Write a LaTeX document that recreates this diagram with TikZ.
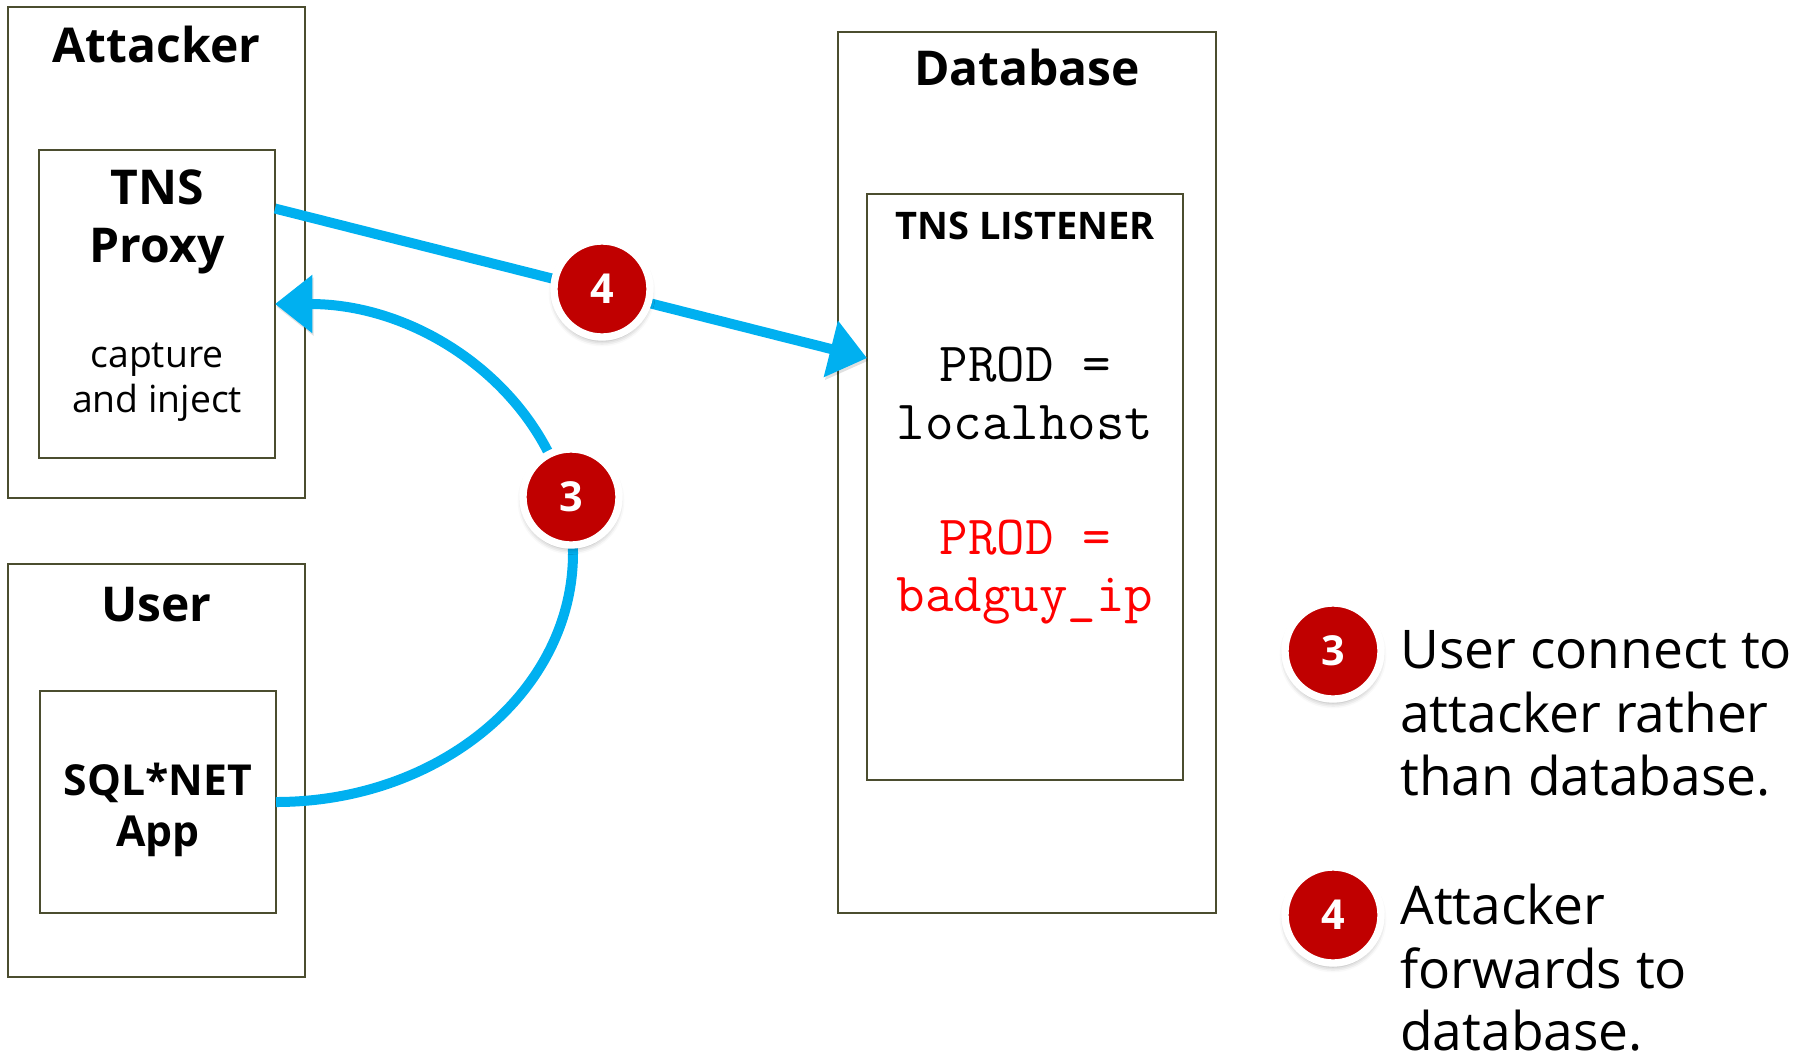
\documentclass[tikz,border=0pt]{standalone}
\usepackage{fontspec}
\setmainfont{Open Sans}
\usetikzlibrary{arrows.meta,calc,shadows.blur}

\definecolor{edgeolive}{HTML}{4B4D2F}
\definecolor{flowblue}{HTML}{00B0F0}
\definecolor{badgered}{HTML}{C00000}
\definecolor{alertred}{HTML}{FF0000}

% one unit = one pixel of the 1809 x 1054 canvas
\newdimen\pxu \pxu=0.75pt

\begin{document}
\begin{tikzpicture}[x=0.75pt,y=-0.75pt,
  box/.style={draw=edgeolive, line width=1.4pt, rectangle, anchor=north west,
    inner sep=0pt, outer sep=0pt},
  title/.style={font=\bfseries\fontsize{36}{43}\selectfont, anchor=base, inner sep=0pt},
  subtitle/.style={font=\bfseries\fontsize{32}{38}\selectfont, anchor=base, inner sep=0pt},
  listtitle/.style={font=\bfseries\fontsize{28.5}{34}\selectfont, anchor=base, inner sep=0pt},
  plain/.style={font=\fontsize{28}{34}\selectfont, anchor=base, inner sep=0pt},
  code/.style={font=\ttfamily\fontsize{41.5}{43}\selectfont, anchor=base, inner sep=0pt},
  legend/.style={font=\fontsize{40}{48}\selectfont, anchor=base west, inner sep=0pt},
  flowline/.style={draw=flowblue, line width=7.5pt,
    -{Triangle[length=28pt,width=42pt]},
    preaction={draw=black, opacity=0.12,
      transform canvas={xshift=1pt,yshift=-2pt}}},
  badge/.style={circle, fill=badgered, draw=white, line width=5.5pt,
    minimum size=96\pxu, inner sep=0pt, text=white,
    font=\bfseries\fontsize{31}{36}\selectfont,
    blur shadow={shadow xshift=0pt, shadow yshift=-3pt,
      shadow blur radius=4pt, shadow opacity=35}}
]
\useasboundingbox (0,0) rectangle (1809,1054);

% --- attacker side ---
\node[box, minimum width=297\pxu, minimum height=491\pxu] (attacker) at (8,7) {};
\node[title] (attackerT) at (156.5,62) {Attacker};
\node[box, minimum width=236\pxu, minimum height=308\pxu] (proxy) at (39,150) {};
\node[title] (proxyT1) at (157,204) {TNS};
\node[title] (proxyT2) at (157,262) {Proxy};
\node[plain] (proxyD1) at (157,367) {capture};
\node[plain] (proxyD2) at (157,412) {and inject};

% --- user side ---
\node[box, minimum width=297\pxu, minimum height=413\pxu] (user) at (8,564) {};
\node[title] (userT) at (156.5,621) {User};
\node[box, minimum width=236\pxu, minimum height=222\pxu] (sql) at (40,691) {};
\node[subtitle] (sqlT1) at (158,795) {SQL*NET};
\node[subtitle] (sqlT2) at (158,846) {App};

% --- database side ---
\node[box, minimum width=378\pxu, minimum height=881\pxu] (database) at (838,32) {};
\node[title] (databaseT) at (1027,85) {Database};
\node[box, minimum width=316\pxu, minimum height=586\pxu] (listener) at (867,194) {};
\node[listtitle] (listenerT) at (1025,239) {TNS LISTENER};
\node[code] (entry1a) at (1025,381) {PROD =};
\node[code] (entry1b) at (1025,439) {localhost};
\node[code, text=alertred] (entry2a) at (1025,554) {PROD =};
\node[code, text=alertred] (entry2b) at (1025,611) {badguy\_ip};

% --- connectors ---
\coordinate (fwdStart) at ($(proxy.north east)!0.19!(proxy.south east)$);
\coordinate (fwdEnd) at ($(listener.north west)!0.28!(listener.south west)$);
\draw[flowline] (fwdStart) -- (fwdEnd);

\coordinate (bend3) at (573,553);
\draw[flowline] (sql.east) .. controls +(164,0) and +(0,138) .. (bend3)
  .. controls +(0,-138) and +(164,0) .. (proxy.east);

% --- step badges on the connectors ---
\node[badge] (step4) at (602,289) {4};
\node[badge] (step3) at (571,497) {3};

% --- legend ---
\node[badge] (key3) at (1333,651) {3};
\node[legend] (key3a) at (1400,668) {User connect to};
\node[legend] (key3b) at (1400,732) {attacker rather};
\node[legend] (key3c) at (1400,795) {than database.};

\node[badge] (key4) at (1333,915) {4};
\node[legend] (key4a) at (1400,924) {Attacker};
\node[legend] (key4b) at (1400,988) {forwards to};
\node[legend] (key4c) at (1400,1050) {database.};
\end{tikzpicture}
\end{document}
